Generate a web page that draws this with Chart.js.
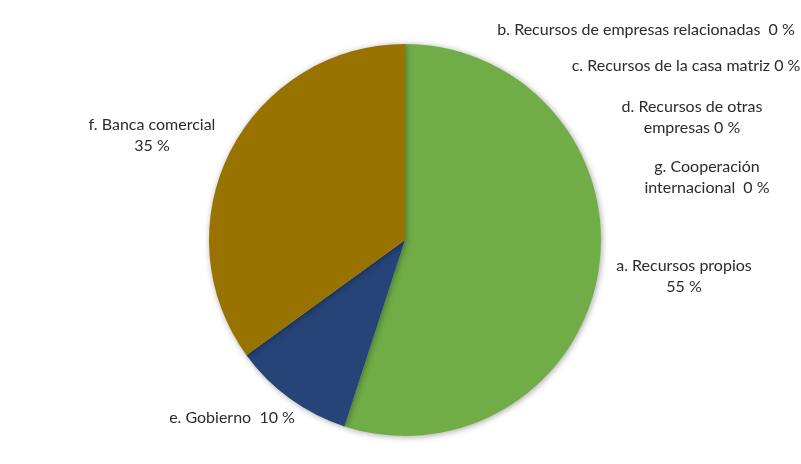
<!DOCTYPE html>
<html>
<head>
<meta charset="utf-8">
<script src="https://cdn.jsdelivr.net/npm/chart.js@4/dist/chart.umd.min.js"></script>
<style>
  html, body { margin: 0; padding: 0; background: #fff; }
  #wrap { width: 801px; height: 464px; position: relative; }
</style>
</head>
<body>
<div id="wrap"><canvas id="fuentes"></canvas></div>
<script>
// fuentes de financiamiento (porcentaje)
const categorias = [
  'a. Recursos propios',
  'b. Recursos de empresas relacionadas',
  'c. Recursos de la casa matriz',
  'd. Recursos de otras empresas',
  'e. Gobierno',
  'f. Banca comercial',
  'g. Cooperación internacional'
];
const porcentajes = [55, 0, 0, 0, 10, 35, 0];
const colores = ['#70AD47', '#4472C4', '#A5A5A5', '#ED7D31', '#264478', '#997300', '#FFC000'];

// texto de cada etiqueta, partido en lineas
const etiquetas = [
  ['a. Recursos propios', '55 %'],
  ['b. Recursos de empresas relacionadas  0 %'],
  ['c. Recursos de la casa matriz 0 %'],
  ['d. Recursos de otras', 'empresas 0 %'],
  ['e. Gobierno  10 %'],
  ['f. Banca comercial', '35 %'],
  ['g. Cooperación', 'internacional  0 %']
];
// posicion (centro de la primera linea) de cada etiqueta
const posEtiquetas = [
  [684, 266], [646, 30], [686, 66], [692, 107], [232, 418], [152, 125], [707, 167]
];

const sombraPie = {
  id: 'sombraPie',
  beforeDatasetDraw(chart) {
    const ctx = chart.ctx;
    ctx.save();
    ctx.shadowColor = 'rgba(0,0,0,0.35)';
    ctx.shadowBlur = 6;
    ctx.shadowOffsetX = 1;
    ctx.shadowOffsetY = 1;
  },
  afterDatasetDraw(chart) {
    chart.ctx.restore();
  }
};

const textoEtiquetas = {
  id: 'textoEtiquetas',
  afterDraw(chart) {
    const ctx = chart.ctx;
    ctx.save();
    ctx.font = '16px Lato, "Open Sans", sans-serif';
    ctx.fillStyle = '#2b2b2b';
    ctx.textAlign = 'center';
    ctx.textBaseline = 'middle';
    etiquetas.forEach((lineas, i) => {
      const [x, y] = posEtiquetas[i];
      lineas.forEach((t, j) => ctx.fillText(t, x, y + j * 21));
    });
    ctx.restore();
  }
};

new Chart(document.getElementById('fuentes'), {
  type: 'pie',
  data: {
    labels: categorias,
    datasets: [{
      data: porcentajes,
      backgroundColor: colores,
      borderWidth: 0
    }]
  },
  options: {
    responsive: true,
    maintainAspectRatio: false,
    animation: false,
    layout: { padding: { left: 209, right: 200, top: 44, bottom: 28 } },
    plugins: {
      legend: { display: false },
      tooltip: { enabled: false }
    }
  },
  plugins: [sombraPie, textoEtiquetas]
});
</script>
</body>
</html>
